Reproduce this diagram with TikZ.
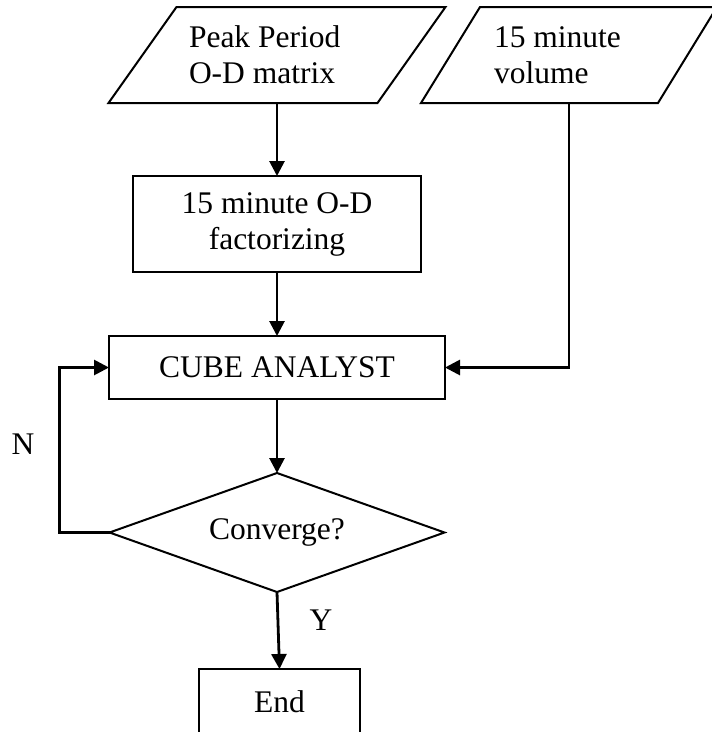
\documentclass[tikz,border=0pt]{standalone}
\usepackage{fontspec}
\setmainfont{Liberation Serif}
\usetikzlibrary{arrows.meta,shapes.geometric}
\tikzset{
  iobox/.style  ={rectangle, align=flush left, inner sep=0pt, outer sep=0pt,
                  minimum height=96},
  ioline/.style ={draw, line width=2pt, line join=miter},
  procbox/.style={draw, rectangle, align=center, inner sep=0pt, outer sep=0pt,
                  line width=2pt},
  decbox/.style ={draw, diamond, aspect=2.8, inner sep=0pt, outer sep=0pt,
                  line width=2pt, minimum width=335, minimum height=119},
  ar/.style     ={-{Triangle[length=15pt,width=15pt]}, line width=2.8pt},
  lbl/.style    ={inner sep=0pt},
}

\begin{document}
\begin{tikzpicture}[x=1pt,y=-1pt,font=\fontsize{31.5}{36}\selectfont]
\useasboundingbox (0,0) rectangle (712,732);
% inputs
\node[iobox, minimum width=201, text width=176] (peak) at (277,55) {Peak Period\\O-D matrix};
\node[iobox, minimum width=178, text width=150] (vol) at (569,55) {15 minute\\volume};
\draw[ioline] ([xshift=-68]peak.south west) -- (peak.north west)
  -- ([xshift=68]peak.north east) -- (peak.south east) -- cycle;
\draw[ioline] ([xshift=-59]vol.south west) -- (vol.north west)
  -- ([xshift=59]vol.north east) -- (vol.south east) -- cycle;
% steps
\node[procbox, minimum width=288, minimum height=96] (fact) at (277,224) {15 minute O-D\\factorizing};
\node[procbox, minimum width=336, minimum height=63] (cube) at (277,367.5) {CUBE ANALYST};
\node[decbox] (conv) at (277,532.5) {Converge?};
\node[procbox, minimum width=161, minimum height=66] (endbox) at (279.5,702) {End};
\node[lbl] (nlab) at (23,444) {N};
\node[lbl] (ylab) at (321,620) {Y};

\draw[ar] (peak) -- (fact);
\draw[ar] (fact) -- (cube);
\draw[ar] (vol.south) |- (cube.east);
\draw[ar] (cube) -- (conv);
\draw[ar] (conv.west) -- ++(-50,0) |- (cube.west);
\draw[ar] (conv.south) -- (endbox.north);
\end{tikzpicture}
\end{document}
